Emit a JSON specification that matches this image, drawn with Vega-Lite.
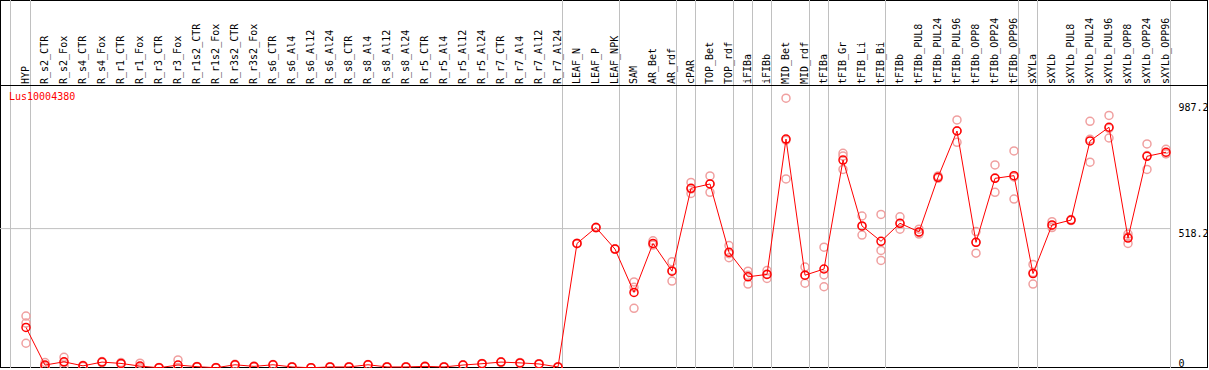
{
  "$schema": "https://vega.github.io/schema/vega-lite/v6.json",
  "width": 1208,
  "height": 368,
  "autosize": "none",
  "padding": 0,
  "background": "white",
  "config": {"view": {"stroke": "black", "strokeWidth": 2}},
  "resolve": {"axis": {"y": "independent", "x": "independent"}},
  "datasets": {
    "seps": [
      {"sample": "HYP"}, {"sample": "R_r7_Al24"}, {"sample": "LEAF_NPK"}, {"sample": "AR_rdf"},
      {"sample": "cPAR"}, {"sample": "TOP_rdf"}, {"sample": "iFIBa"}, {"sample": "iFIBb"},
      {"sample": "MID_rdf"}, {"sample": "tFIBa"}, {"sample": "tFIB_Bi"}, {"sample": "tFIBb_OPP96"},
      {"sample": "sXYLa"}, {"sample": "sXYLb_OPP96"}
    ],
    "means": [
      {"sample": "HYP", "value": 151}, {"sample": "R_s2_CTR", "value": 11}, {"sample": "R_s2_Fox", "value": 23},
      {"sample": "R_s4_CTR", "value": 8}, {"sample": "R_s4_Fox", "value": 22}, {"sample": "R_r1_CTR", "value": 17},
      {"sample": "R_r1_Fox", "value": 7}, {"sample": "R_r3_CTR", "value": 1}, {"sample": "R_r3_Fox", "value": 11},
      {"sample": "R_r1s2_CTR", "value": 5}, {"sample": "R_r1s2_Fox", "value": 1}, {"sample": "R_r3s2_CTR", "value": 12},
      {"sample": "R_r3s2_Fox", "value": 6}, {"sample": "R_s6_CTR", "value": 12}, {"sample": "R_s6_Al4", "value": 4},
      {"sample": "R_s6_Al12", "value": 1}, {"sample": "R_s6_Al24", "value": 4}, {"sample": "R_s8_CTR", "value": 4},
      {"sample": "R_s8_Al4", "value": 12}, {"sample": "R_s8_Al12", "value": 4}, {"sample": "R_s8_Al24", "value": 4},
      {"sample": "R_r5_CTR", "value": 6}, {"sample": "R_r5_Al4", "value": 4}, {"sample": "R_r5_Al12", "value": 11},
      {"sample": "R_r5_Al24", "value": 16}, {"sample": "R_r7_CTR", "value": 22}, {"sample": "R_r7_Al4", "value": 19},
      {"sample": "R_r7_Al12", "value": 15}, {"sample": "R_r7_Al24", "value": 4}, {"sample": "LEAF_N", "value": 463},
      {"sample": "LEAF_P", "value": 522}, {"sample": "LEAF_NPK", "value": 442}, {"sample": "SAM", "value": 281},
      {"sample": "AR_Bet", "value": 463}, {"sample": "AR_rdf", "value": 360}, {"sample": "cPAR", "value": 668},
      {"sample": "TOP_Bet", "value": 684}, {"sample": "TOP_rdf", "value": 430}, {"sample": "iFIBa", "value": 339},
      {"sample": "iFIBb", "value": 348}, {"sample": "MID_Bet", "value": 851}, {"sample": "MID_rdf", "value": 345},
      {"sample": "tFIBa", "value": 368}, {"sample": "tFIB_Gr", "value": 773}, {"sample": "tFIB_Li", "value": 528},
      {"sample": "tFIB_Bi", "value": 471}, {"sample": "tFIBb", "value": 538}, {"sample": "tFIBb_PUL8", "value": 506},
      {"sample": "tFIBb_PUL24", "value": 709}, {"sample": "tFIBb_PUL96", "value": 881}, {"sample": "tFIBb_OPP8", "value": 467},
      {"sample": "tFIBb_OPP24", "value": 705}, {"sample": "tFIBb_OPP96", "value": 715}, {"sample": "sXYLa", "value": 351},
      {"sample": "sXYLb", "value": 532}, {"sample": "sXYLb_PUL8", "value": 550}, {"sample": "sXYLb_PUL24", "value": 844},
      {"sample": "sXYLb_PUL96", "value": 895}, {"sample": "sXYLb_OPP8", "value": 483}, {"sample": "sXYLb_OPP24", "value": 787},
      {"sample": "sXYLb_OPP96", "value": 802}
    ],
    "reps": [
      {"sample": "HYP", "value": 193}, {"sample": "HYP", "value": 167}, {"sample": "HYP", "value": 92},
      {"sample": "R_s2_CTR", "value": 20}, {"sample": "R_s2_CTR", "value": 8}, {"sample": "R_s2_CTR", "value": 5},
      {"sample": "R_s2_Fox", "value": 40}, {"sample": "R_s2_Fox", "value": 9}, {"sample": "R_s2_Fox", "value": 20},
      {"sample": "R_s4_CTR", "value": 6}, {"sample": "R_s4_CTR", "value": 9}, {"sample": "R_s4_CTR", "value": 9},
      {"sample": "R_s4_Fox", "value": 20}, {"sample": "R_s4_Fox", "value": 24}, {"sample": "R_s4_Fox", "value": 22},
      {"sample": "R_r1_CTR", "value": 20}, {"sample": "R_r1_CTR", "value": 15}, {"sample": "R_r1_CTR", "value": 16},
      {"sample": "R_r1_Fox", "value": 18}, {"sample": "R_r1_Fox", "value": 2}, {"sample": "R_r1_Fox", "value": 1},
      {"sample": "R_r3_CTR", "value": 1}, {"sample": "R_r3_CTR", "value": 0}, {"sample": "R_r3_CTR", "value": 2},
      {"sample": "R_r3_Fox", "value": 30}, {"sample": "R_r3_Fox", "value": 2}, {"sample": "R_r3_Fox", "value": 1},
      {"sample": "R_r1s2_CTR", "value": 5}, {"sample": "R_r1s2_CTR", "value": 4}, {"sample": "R_r1s2_CTR", "value": 6},
      {"sample": "R_r1s2_Fox", "value": 1}, {"sample": "R_r1s2_Fox", "value": 0}, {"sample": "R_r1s2_Fox", "value": 2},
      {"sample": "R_r3s2_CTR", "value": 14}, {"sample": "R_r3s2_CTR", "value": 10}, {"sample": "R_r3s2_CTR", "value": 12},
      {"sample": "R_r3s2_Fox", "value": 6}, {"sample": "R_r3s2_Fox", "value": 5}, {"sample": "R_r3s2_Fox", "value": 7},
      {"sample": "R_s6_CTR", "value": 13}, {"sample": "R_s6_CTR", "value": 11}, {"sample": "R_s6_CTR", "value": 12},
      {"sample": "R_s6_Al4", "value": 4}, {"sample": "R_s6_Al4", "value": 5}, {"sample": "R_s6_Al4", "value": 3},
      {"sample": "R_s6_Al12", "value": 1}, {"sample": "R_s6_Al12", "value": 1}, {"sample": "R_s6_Al12", "value": 1},
      {"sample": "R_s6_Al24", "value": 4}, {"sample": "R_s6_Al24", "value": 5}, {"sample": "R_s6_Al24", "value": 3},
      {"sample": "R_s8_CTR", "value": 4}, {"sample": "R_s8_CTR", "value": 3}, {"sample": "R_s8_CTR", "value": 5},
      {"sample": "R_s8_Al4", "value": 12}, {"sample": "R_s8_Al4", "value": 13}, {"sample": "R_s8_Al4", "value": 11},
      {"sample": "R_s8_Al12", "value": 4}, {"sample": "R_s8_Al12", "value": 3}, {"sample": "R_s8_Al12", "value": 5},
      {"sample": "R_s8_Al24", "value": 4}, {"sample": "R_s8_Al24", "value": 5}, {"sample": "R_s8_Al24", "value": 3},
      {"sample": "R_r5_CTR", "value": 6}, {"sample": "R_r5_CTR", "value": 7}, {"sample": "R_r5_CTR", "value": 5},
      {"sample": "R_r5_Al4", "value": 4}, {"sample": "R_r5_Al4", "value": 3}, {"sample": "R_r5_Al4", "value": 5},
      {"sample": "R_r5_Al12", "value": 11}, {"sample": "R_r5_Al12", "value": 12}, {"sample": "R_r5_Al12", "value": 10},
      {"sample": "R_r5_Al24", "value": 16}, {"sample": "R_r5_Al24", "value": 17}, {"sample": "R_r5_Al24", "value": 15},
      {"sample": "R_r7_CTR", "value": 22}, {"sample": "R_r7_CTR", "value": 23}, {"sample": "R_r7_CTR", "value": 21},
      {"sample": "R_r7_Al4", "value": 19}, {"sample": "R_r7_Al4", "value": 20}, {"sample": "R_r7_Al4", "value": 18},
      {"sample": "R_r7_Al12", "value": 15}, {"sample": "R_r7_Al12", "value": 16}, {"sample": "R_r7_Al12", "value": 14},
      {"sample": "R_r7_Al24", "value": 4}, {"sample": "R_r7_Al24", "value": 5}, {"sample": "R_r7_Al24", "value": 3},
      {"sample": "LEAF_N", "value": 463}, {"sample": "LEAF_N", "value": 462}, {"sample": "LEAF_N", "value": 464},
      {"sample": "LEAF_P", "value": 522}, {"sample": "LEAF_P", "value": 521}, {"sample": "LEAF_P", "value": 523},
      {"sample": "LEAF_NPK", "value": 442}, {"sample": "LEAF_NPK", "value": 441}, {"sample": "LEAF_NPK", "value": 443},
      {"sample": "SAM", "value": 320}, {"sample": "SAM", "value": 300}, {"sample": "SAM", "value": 222},
      {"sample": "AR_Bet", "value": 473}, {"sample": "AR_Bet", "value": 457}, {"sample": "AR_Bet", "value": 460},
      {"sample": "AR_rdf", "value": 395}, {"sample": "AR_rdf", "value": 362}, {"sample": "AR_rdf", "value": 323},
      {"sample": "cPAR", "value": 690}, {"sample": "cPAR", "value": 665}, {"sample": "cPAR", "value": 649},
      {"sample": "TOP_Bet", "value": 714}, {"sample": "TOP_Bet", "value": 685}, {"sample": "TOP_Bet", "value": 653},
      {"sample": "TOP_rdf", "value": 455}, {"sample": "TOP_rdf", "value": 425}, {"sample": "TOP_rdf", "value": 410},
      {"sample": "iFIBa", "value": 360}, {"sample": "iFIBa", "value": 345}, {"sample": "iFIBa", "value": 312},
      {"sample": "iFIBb", "value": 362}, {"sample": "iFIBb", "value": 349}, {"sample": "iFIBb", "value": 333},
      {"sample": "MID_Bet", "value": 1003}, {"sample": "MID_Bet", "value": 847}, {"sample": "MID_Bet", "value": 703},
      {"sample": "MID_rdf", "value": 375}, {"sample": "MID_rdf", "value": 344}, {"sample": "MID_rdf", "value": 315},
      {"sample": "tFIBa", "value": 449}, {"sample": "tFIBa", "value": 346}, {"sample": "tFIBa", "value": 302},
      {"sample": "tFIB_Gr", "value": 798}, {"sample": "tFIB_Gr", "value": 788}, {"sample": "tFIB_Gr", "value": 738},
      {"sample": "tFIB_Li", "value": 565}, {"sample": "tFIB_Li", "value": 526}, {"sample": "tFIB_Li", "value": 494},
      {"sample": "tFIB_Bi", "value": 571}, {"sample": "tFIB_Bi", "value": 437}, {"sample": "tFIB_Bi", "value": 400},
      {"sample": "tFIBb", "value": 562}, {"sample": "tFIBb", "value": 536}, {"sample": "tFIBb", "value": 516},
      {"sample": "tFIBb_PUL8", "value": 516}, {"sample": "tFIBb_PUL8", "value": 503}, {"sample": "tFIBb_PUL8", "value": 498},
      {"sample": "tFIBb_PUL24", "value": 714}, {"sample": "tFIBb_PUL24", "value": 708}, {"sample": "tFIBb_PUL24", "value": 705},
      {"sample": "tFIBb_PUL96", "value": 922}, {"sample": "tFIBb_PUL96", "value": 882}, {"sample": "tFIBb_PUL96", "value": 839},
      {"sample": "tFIBb_OPP8", "value": 507}, {"sample": "tFIBb_OPP8", "value": 467}, {"sample": "tFIBb_OPP8", "value": 427},
      {"sample": "tFIBb_OPP24", "value": 755}, {"sample": "tFIBb_OPP24", "value": 707}, {"sample": "tFIBb_OPP24", "value": 653},
      {"sample": "tFIBb_OPP96", "value": 807}, {"sample": "tFIBb_OPP96", "value": 710}, {"sample": "tFIBb_OPP96", "value": 628},
      {"sample": "sXYLa", "value": 385}, {"sample": "sXYLa", "value": 355}, {"sample": "sXYLa", "value": 312},
      {"sample": "sXYLb", "value": 544}, {"sample": "sXYLb", "value": 529}, {"sample": "sXYLb", "value": 522},
      {"sample": "sXYLb_PUL8", "value": 552}, {"sample": "sXYLb_PUL8", "value": 550}, {"sample": "sXYLb_PUL8", "value": 548},
      {"sample": "sXYLb_PUL24", "value": 917}, {"sample": "sXYLb_PUL24", "value": 850}, {"sample": "sXYLb_PUL24", "value": 765},
      {"sample": "sXYLb_PUL96", "value": 939}, {"sample": "sXYLb_PUL96", "value": 891}, {"sample": "sXYLb_PUL96", "value": 855},
      {"sample": "sXYLb_OPP8", "value": 498}, {"sample": "sXYLb_OPP8", "value": 488}, {"sample": "sXYLb_OPP8", "value": 463},
      {"sample": "sXYLb_OPP24", "value": 833}, {"sample": "sXYLb_OPP24", "value": 790}, {"sample": "sXYLb_OPP24", "value": 738},
      {"sample": "sXYLb_OPP96", "value": 813}, {"sample": "sXYLb_OPP96", "value": 797}, {"sample": "sXYLb_OPP96", "value": 796}
    ],
    "one": [{}]
  },
  "layer": [
    {
      "data": {"name": "seps"},
      "mark": {"type": "rule", "color": "#c0c0c0", "strokeWidth": 1, "xOffset": 4.5},
      "encoding": {
        "x": {"field": "sample", "type": "nominal", "axis": null,
          "scale": {"type": "point", "padding": 0, "range": [26, 1166], "domain": ["HYP","R_s2_CTR","R_s2_Fox","R_s4_CTR","R_s4_Fox","R_r1_CTR","R_r1_Fox","R_r3_CTR","R_r3_Fox","R_r1s2_CTR","R_r1s2_Fox","R_r3s2_CTR","R_r3s2_Fox","R_s6_CTR","R_s6_Al4","R_s6_Al12","R_s6_Al24","R_s8_CTR","R_s8_Al4","R_s8_Al12","R_s8_Al24","R_r5_CTR","R_r5_Al4","R_r5_Al12","R_r5_Al24","R_r7_CTR","R_r7_Al4","R_r7_Al12","R_r7_Al24","LEAF_N","LEAF_P","LEAF_NPK","SAM","AR_Bet","AR_rdf","cPAR","TOP_Bet","TOP_rdf","iFIBa","iFIBb","MID_Bet","MID_rdf","tFIBa","tFIB_Gr","tFIB_Li","tFIB_Bi","tFIBb","tFIBb_PUL8","tFIBb_PUL24","tFIBb_PUL96","tFIBb_OPP8","tFIBb_OPP24","tFIBb_OPP96","sXYLa","sXYLb","sXYLb_PUL8","sXYLb_PUL24","sXYLb_PUL96","sXYLb_OPP8","sXYLb_OPP24","sXYLb_OPP96"]}}
      }
    },
    {
      "data": {"name": "one"},
      "mark": {"type": "rule", "color": "#c0c0c0", "strokeWidth": 1, "xOffset": -15.5},
      "encoding": {
        "x": {"datum": "HYP", "type": "nominal", "axis": null,
          "scale": {"type": "point", "padding": 0, "range": [26, 1166], "domain": ["HYP","R_s2_CTR","R_s2_Fox","R_s4_CTR","R_s4_Fox","R_r1_CTR","R_r1_Fox","R_r3_CTR","R_r3_Fox","R_r1s2_CTR","R_r1s2_Fox","R_r3s2_CTR","R_r3s2_Fox","R_s6_CTR","R_s6_Al4","R_s6_Al12","R_s6_Al24","R_s8_CTR","R_s8_Al4","R_s8_Al12","R_s8_Al24","R_r5_CTR","R_r5_Al4","R_r5_Al12","R_r5_Al24","R_r7_CTR","R_r7_Al4","R_r7_Al12","R_r7_Al24","LEAF_N","LEAF_P","LEAF_NPK","SAM","AR_Bet","AR_rdf","cPAR","TOP_Bet","TOP_rdf","iFIBa","iFIBb","MID_Bet","MID_rdf","tFIBa","tFIB_Gr","tFIB_Li","tFIB_Bi","tFIBb","tFIBb_PUL8","tFIBb_PUL24","tFIBb_PUL96","tFIBb_OPP8","tFIBb_OPP24","tFIBb_OPP96","sXYLa","sXYLb","sXYLb_PUL8","sXYLb_PUL24","sXYLb_PUL96","sXYLb_OPP8","sXYLb_OPP24","sXYLb_OPP96"]}}
      }
    },
    {
      "data": {"name": "one"},
      "mark": {"type": "rule", "color": "black", "strokeWidth": 1},
      "encoding": {
        "y": {"datum": 1050.15, "type": "quantitative", "axis": null, "scale": {"domain": [0, 1368], "nice": false, "zero": false}}
      }
    },
    {
      "data": {"name": "one"},
      "mark": {"type": "rule", "color": "#c0c0c0", "strokeWidth": 1, "xOffset": -26, "x2Offset": 4.5},
      "encoding": {
        "x": {"datum": "HYP", "type": "nominal", "axis": null,
          "scale": {"type": "point", "padding": 0, "range": [26, 1166], "domain": ["HYP","R_s2_CTR","R_s2_Fox","R_s4_CTR","R_s4_Fox","R_r1_CTR","R_r1_Fox","R_r3_CTR","R_r3_Fox","R_r1s2_CTR","R_r1s2_Fox","R_r3s2_CTR","R_r3s2_Fox","R_s6_CTR","R_s6_Al4","R_s6_Al12","R_s6_Al24","R_s8_CTR","R_s8_Al4","R_s8_Al12","R_s8_Al24","R_r5_CTR","R_r5_Al4","R_r5_Al12","R_r5_Al24","R_r7_CTR","R_r7_Al4","R_r7_Al12","R_r7_Al24","LEAF_N","LEAF_P","LEAF_NPK","SAM","AR_Bet","AR_rdf","cPAR","TOP_Bet","TOP_rdf","iFIBa","iFIBb","MID_Bet","MID_rdf","tFIBa","tFIB_Gr","tFIB_Li","tFIB_Bi","tFIBb","tFIBb_PUL8","tFIBb_PUL24","tFIBb_PUL96","tFIBb_OPP8","tFIBb_OPP24","tFIBb_OPP96","sXYLa","sXYLb","sXYLb_PUL8","sXYLb_PUL24","sXYLb_PUL96","sXYLb_OPP8","sXYLb_OPP24","sXYLb_OPP96"]}},
        "x2": {"datum": "sXYLb_OPP96"},
        "y": {"datum": 518.2, "type": "quantitative", "axis": null, "scale": {"domain": [0, 1368], "nice": false, "zero": false}}
      }
    },
    {
      "data": {"name": "means"},
      "mark": {"type": "text", "angle": 270, "align": "left", "baseline": "middle", "font": "DejaVu Sans Mono", "fontSize": 10, "color": "black"},
      "encoding": {
        "x": {"field": "sample", "type": "nominal", "axis": null,
          "scale": {"type": "point", "padding": 0, "range": [26, 1166], "domain": ["HYP","R_s2_CTR","R_s2_Fox","R_s4_CTR","R_s4_Fox","R_r1_CTR","R_r1_Fox","R_r3_CTR","R_r3_Fox","R_r1s2_CTR","R_r1s2_Fox","R_r3s2_CTR","R_r3s2_Fox","R_s6_CTR","R_s6_Al4","R_s6_Al12","R_s6_Al24","R_s8_CTR","R_s8_Al4","R_s8_Al12","R_s8_Al24","R_r5_CTR","R_r5_Al4","R_r5_Al12","R_r5_Al24","R_r7_CTR","R_r7_Al4","R_r7_Al12","R_r7_Al24","LEAF_N","LEAF_P","LEAF_NPK","SAM","AR_Bet","AR_rdf","cPAR","TOP_Bet","TOP_rdf","iFIBa","iFIBb","MID_Bet","MID_rdf","tFIBa","tFIB_Gr","tFIB_Li","tFIB_Bi","tFIBb","tFIBb_PUL8","tFIBb_PUL24","tFIBb_PUL96","tFIBb_OPP8","tFIBb_OPP24","tFIBb_OPP96","sXYLa","sXYLb","sXYLb_PUL8","sXYLb_PUL24","sXYLb_PUL96","sXYLb_OPP8","sXYLb_OPP24","sXYLb_OPP96"]}},
        "y": {"datum": 1055.8, "type": "quantitative", "axis": null, "scale": {"domain": [0, 1368], "nice": false, "zero": false}},
        "text": {"field": "sample"}
      }
    },
    {
      "data": {"name": "one"},
      "mark": {"type": "text", "text": "Lus10004380", "align": "left", "baseline": "middle", "font": "DejaVu Sans Mono", "fontSize": 10, "color": "red", "xOffset": -17},
      "encoding": {
        "x": {"datum": "HYP", "type": "nominal", "axis": null,
          "scale": {"type": "point", "padding": 0, "range": [26, 1166], "domain": ["HYP","R_s2_CTR","R_s2_Fox","R_s4_CTR","R_s4_Fox","R_r1_CTR","R_r1_Fox","R_r3_CTR","R_r3_Fox","R_r1s2_CTR","R_r1s2_Fox","R_r3s2_CTR","R_r3s2_Fox","R_s6_CTR","R_s6_Al4","R_s6_Al12","R_s6_Al24","R_s8_CTR","R_s8_Al4","R_s8_Al12","R_s8_Al24","R_r5_CTR","R_r5_Al4","R_r5_Al12","R_r5_Al24","R_r7_CTR","R_r7_Al4","R_r7_Al12","R_r7_Al24","LEAF_N","LEAF_P","LEAF_NPK","SAM","AR_Bet","AR_rdf","cPAR","TOP_Bet","TOP_rdf","iFIBa","iFIBb","MID_Bet","MID_rdf","tFIBa","tFIB_Gr","tFIB_Li","tFIB_Bi","tFIBb","tFIBb_PUL8","tFIBb_PUL24","tFIBb_PUL96","tFIBb_OPP8","tFIBb_OPP24","tFIBb_OPP96","sXYLa","sXYLb","sXYLb_PUL8","sXYLb_PUL24","sXYLb_PUL96","sXYLb_OPP8","sXYLb_OPP24","sXYLb_OPP96"]}},
        "y": {"datum": 1007.4, "type": "quantitative", "axis": null, "scale": {"domain": [0, 1368], "nice": false, "zero": false}}
      }
    },
    {
      "data": {"name": "reps"},
      "mark": {"type": "point", "shape": "circle", "filled": false, "size": 64, "strokeWidth": 1.5, "color": "#f0a0a0", "opacity": 1},
      "encoding": {
        "x": {"field": "sample", "type": "nominal", "axis": null,
          "scale": {"type": "point", "padding": 0, "range": [26, 1166], "domain": ["HYP","R_s2_CTR","R_s2_Fox","R_s4_CTR","R_s4_Fox","R_r1_CTR","R_r1_Fox","R_r3_CTR","R_r3_Fox","R_r1s2_CTR","R_r1s2_Fox","R_r3s2_CTR","R_r3s2_Fox","R_s6_CTR","R_s6_Al4","R_s6_Al12","R_s6_Al24","R_s8_CTR","R_s8_Al4","R_s8_Al12","R_s8_Al24","R_r5_CTR","R_r5_Al4","R_r5_Al12","R_r5_Al24","R_r7_CTR","R_r7_Al4","R_r7_Al12","R_r7_Al24","LEAF_N","LEAF_P","LEAF_NPK","SAM","AR_Bet","AR_rdf","cPAR","TOP_Bet","TOP_rdf","iFIBa","iFIBb","MID_Bet","MID_rdf","tFIBa","tFIB_Gr","tFIB_Li","tFIB_Bi","tFIBb","tFIBb_PUL8","tFIBb_PUL24","tFIBb_PUL96","tFIBb_OPP8","tFIBb_OPP24","tFIBb_OPP96","sXYLa","sXYLb","sXYLb_PUL8","sXYLb_PUL24","sXYLb_PUL96","sXYLb_OPP8","sXYLb_OPP24","sXYLb_OPP96"]}},
        "y": {"field": "value", "type": "quantitative", "axis": null, "scale": {"domain": [0, 1368], "nice": false, "zero": false}}
      }
    },
    {
      "data": {"name": "means"},
      "mark": {"type": "line", "color": "red", "strokeWidth": 1},
      "encoding": {
        "x": {"field": "sample", "type": "nominal", "axis": null,
          "scale": {"type": "point", "padding": 0, "range": [26, 1166], "domain": ["HYP","R_s2_CTR","R_s2_Fox","R_s4_CTR","R_s4_Fox","R_r1_CTR","R_r1_Fox","R_r3_CTR","R_r3_Fox","R_r1s2_CTR","R_r1s2_Fox","R_r3s2_CTR","R_r3s2_Fox","R_s6_CTR","R_s6_Al4","R_s6_Al12","R_s6_Al24","R_s8_CTR","R_s8_Al4","R_s8_Al12","R_s8_Al24","R_r5_CTR","R_r5_Al4","R_r5_Al12","R_r5_Al24","R_r7_CTR","R_r7_Al4","R_r7_Al12","R_r7_Al24","LEAF_N","LEAF_P","LEAF_NPK","SAM","AR_Bet","AR_rdf","cPAR","TOP_Bet","TOP_rdf","iFIBa","iFIBb","MID_Bet","MID_rdf","tFIBa","tFIB_Gr","tFIB_Li","tFIB_Bi","tFIBb","tFIBb_PUL8","tFIBb_PUL24","tFIBb_PUL96","tFIBb_OPP8","tFIBb_OPP24","tFIBb_OPP96","sXYLa","sXYLb","sXYLb_PUL8","sXYLb_PUL24","sXYLb_PUL96","sXYLb_OPP8","sXYLb_OPP24","sXYLb_OPP96"]}},
        "y": {"field": "value", "type": "quantitative", "axis": null, "scale": {"domain": [0, 1368], "nice": false, "zero": false}},
        "order": {"value": null}
      }
    },
    {
      "data": {"name": "means"},
      "mark": {"type": "point", "shape": "circle", "filled": false, "size": 64, "strokeWidth": 1.5, "color": "red", "opacity": 1},
      "encoding": {
        "x": {"field": "sample", "type": "nominal", "axis": null,
          "scale": {"type": "point", "padding": 0, "range": [26, 1166], "domain": ["HYP","R_s2_CTR","R_s2_Fox","R_s4_CTR","R_s4_Fox","R_r1_CTR","R_r1_Fox","R_r3_CTR","R_r3_Fox","R_r1s2_CTR","R_r1s2_Fox","R_r3s2_CTR","R_r3s2_Fox","R_s6_CTR","R_s6_Al4","R_s6_Al12","R_s6_Al24","R_s8_CTR","R_s8_Al4","R_s8_Al12","R_s8_Al24","R_r5_CTR","R_r5_Al4","R_r5_Al12","R_r5_Al24","R_r7_CTR","R_r7_Al4","R_r7_Al12","R_r7_Al24","LEAF_N","LEAF_P","LEAF_NPK","SAM","AR_Bet","AR_rdf","cPAR","TOP_Bet","TOP_rdf","iFIBa","iFIBb","MID_Bet","MID_rdf","tFIBa","tFIB_Gr","tFIB_Li","tFIB_Bi","tFIBb","tFIBb_PUL8","tFIBb_PUL24","tFIBb_PUL96","tFIBb_OPP8","tFIBb_OPP24","tFIBb_OPP96","sXYLa","sXYLb","sXYLb_PUL8","sXYLb_PUL24","sXYLb_PUL96","sXYLb_OPP8","sXYLb_OPP24","sXYLb_OPP96"]}},
        "y": {"field": "value", "type": "quantitative", "title": null,
          "scale": {"domain": [0, 1368], "nice": false, "zero": false},
          "axis": {"orient": "right", "offset": -38, "values": [0, 518.2, 987.2], "format": ".1~f",
            "ticks": false, "domain": false, "grid": false, "labelPadding": 8, "labelAlign": "left",
            "labelBaseline": {"condition": {"test": "datum.value === 0", "value": "bottom"}, "value": "top"},
            "labelFont": "DejaVu Sans Mono", "labelFontSize": 10, "labelColor": "black", "labelOverlap": false, "labelFlush": false}}
      }
    }
  ]
}
